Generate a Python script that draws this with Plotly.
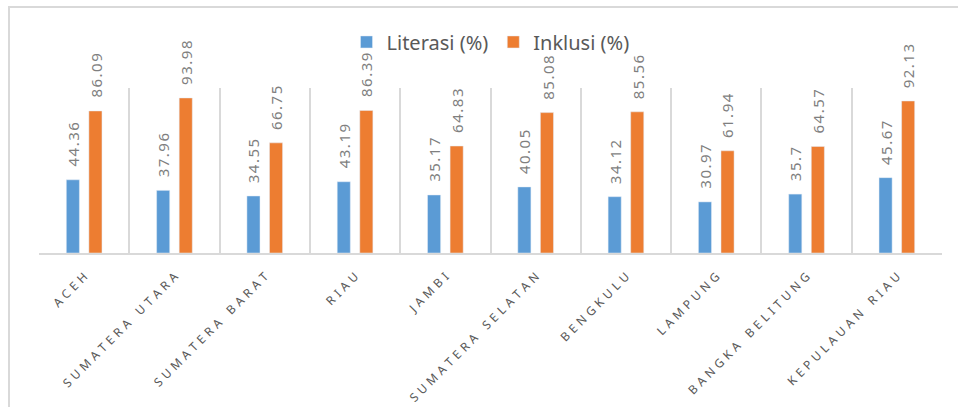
import plotly.graph_objects as go

provinces = ["ACEH", "SUMATERA UTARA", "SUMATERA BARAT", "RIAU", "JAMBI",
             "SUMATERA SELATAN", "BENGKULU", "LAMPUNG", "BANGKA BELITUNG", "KEPULAUAN RIAU"]
literasi = [44.36, 37.96, 34.55, 43.19, 35.17, 40.05, 34.12, 30.97, 35.7, 45.67]
inklusi = [86.09, 93.98, 66.75, 86.39, 64.83, 85.08, 85.56, 61.94, 64.57, 92.13]
series_names = ["Literasi (%)", "Inklusi (%)"]

BLUE = "#5B9BD5"
ORANGE = "#ED7D31"
FONT = "Noto Sans"


def spaced(s, gap="\u2009\u2009"):
    words = s.split(" ")
    return ("\u2003").join(gap.join(list(w)) for w in words)


def spaced_num(v):
    return "\u200a".join(list(f"{v:g}"))


labels = [spaced(p) for p in provinces]

fig = go.Figure()
fig.add_trace(go.Bar(x=labels, y=literasi, name=series_names[0], marker_color=BLUE))
fig.add_trace(go.Bar(x=labels, y=inklusi, name=series_names[1], marker_color=ORANGE))

# data labels via annotations (offset above bars)
for i, lab in enumerate(labels):
    for v, off in ((literasi[i], -11.5), (inklusi[i], 11.5)):
        fig.add_annotation(x=lab, y=v, text=spaced_num(v), textangle=-90,
                           showarrow=False, xanchor="center", yanchor="bottom",
                           xshift=off, yshift=11,
                           font=dict(family=FONT, size=15, color="#7f7f7f"))

fig.update_layout(
    width=958, height=407,
    margin=dict(l=39, r=16, t=88, b=154, autoexpand=False),
    paper_bgcolor="white", plot_bgcolor="white",
    barmode="group", bargap=0.5, bargroupgap=0.42,
    showlegend=True,
    legend=dict(orientation="h", x=0.5, xanchor="center", y=1.279, yanchor="middle",
                font=dict(family=FONT, size=20, color="#595959"),
                itemwidth=30, traceorder="normal"),
    xaxis=dict(type="category", tickson="boundaries", showgrid=True,
               gridcolor="#d9d9d9", gridwidth=1.5, showline=True,
               linecolor="#d9d9d9", linewidth=2, ticks="", tickangle=-45,
               ticklabelstandoff=10, automargin=False,
               tickfont=dict(family=FONT, size=12, color="#595959"),
               range=[-0.5, 9.5]),
    yaxis=dict(range=[0, 100], visible=False, showgrid=False, zeroline=False,
               automargin=False),
    shapes=[dict(type="rect", xref="paper", yref="paper",
                 x0=(9 - 39) / 903, x1=1.2, y0=-2, y1=(253 - 7) / 165,
                 line=dict(color="#d9d9d9", width=2), fillcolor="rgba(0,0,0,0)",
                 layer="below")],
)

fig.write_html("out.html")
